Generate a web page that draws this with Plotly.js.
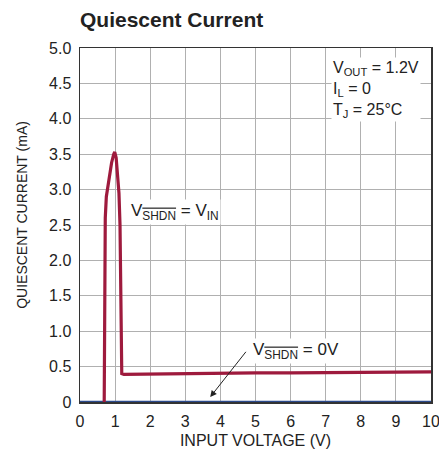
<!DOCTYPE html>
<html><head><meta charset="utf-8">
<script src="https://cdn.plot.ly/plotly-3.0.1.min.js"></script>
<style>html,body{margin:0;padding:0;background:#fff}</style>
</head><body><div id="chart" style="width:439px;height:455px"></div>
<script>
// Data
const activeV = [0.69, 0.70, 0.72, 0.75, 0.78, 0.84, 0.90, 0.96, 0.99, 1.03, 1.07, 1.11, 1.14, 1.17, 1.19, 1.25, 2, 3, 4, 5, 6, 7, 8, 9, 10];
const activeI = [0, 1.6, 2.6, 2.9, 3.0, 3.2, 3.38, 3.5, 3.53, 3.45, 3.25, 2.95, 2.5, 1.3, 0.40, 0.39, 0.395, 0.40, 0.405, 0.41, 0.41, 0.415, 0.42, 0.425, 0.425];
const shdnV = [0, 1, 2, 3, 4, 5, 6, 7, 8, 9, 10];
const shdnI = [0, 0, 0, 0, 0, 0, 0, 0, 0, 0, 0];
const xTicks = [0, 1, 2, 3, 4, 5, 6, 7, 8, 9, 10];
const yTicks = [0, 0.5, 1.0, 1.5, 2.0, 2.5, 3.0, 3.5, 4.0, 4.5, 5.0];
const yTickText = ['0', '0.5', '1.0', '1.5', '2.0', '2.5', '3.0', '3.5', '4.0', '4.5', '5.0'];

const F = '"Liberation Sans", Arial, sans-serif';
const OV = s => '<span style="text-decoration:overline">' + s + '</span>';

const traces = [
  {x: shdnV, y: shdnI, mode: 'lines', line: {color: '#2b4a8c', width: 2.5}, hoverinfo: 'none', cliponaxis: false},
  {x: activeV, y: activeI, mode: 'lines', line: {color: '#9e1a3d', width: 3.2}, hoverinfo: 'none'}
];

const layout = {
  width: 439, height: 455,
  margin: {l: 80, r: 8, t: 48, b: 53},
  paper_bgcolor: '#fff', plot_bgcolor: '#fff',
  showlegend: false,
  font: {family: F, color: '#222', size: 16},
  title: {text: '<b>Quiescent Current</b>', font: {family: F, size: 21, color: '#222'},
          x: 0, xanchor: 'left', xref: 'paper', y: 1 - 20/455, yanchor: 'middle'},
  xaxis: {range: [0, 10], tickvals: xTicks, ticktext: xTicks.map(String),
          showgrid: true, gridcolor: '#b0b0b0', gridwidth: 1,
          showline: true, linecolor: '#333', linewidth: 1.5, mirror: true,
          zeroline: false, ticks: '', tickfont: {size: 16}, ticklabelstandoff: 4,
          ticklabeloverflow: 'allow',
          title: {text: 'INPUT VOLTAGE (V)', font: {size: 16}, standoff: 6}},
  yaxis: {range: [0, 5], tickvals: yTicks, ticktext: yTickText,
          showgrid: true, gridcolor: '#b0b0b0', gridwidth: 1,
          showline: true, linecolor: '#333', linewidth: 1.5, mirror: true,
          zeroline: false, ticks: '', tickfont: {size: 16}, ticklabelstandoff: 4,
          ticklabeloverflow: 'allow'},
  annotations: [
    {x: (22 - 80) / 350, y: (402 - 215) / 354, xref: 'paper', yref: 'paper', xanchor: 'center', yanchor: 'middle',
     showarrow: false, textangle: -90,
     text: 'QUIESCENT CURRENT (mA)', font: {size: 14}},
    {x: 7.14, y: 4.87, xref: 'x', yref: 'y', xanchor: 'left', yanchor: 'top', align: 'left', showarrow: false,
     text: 'V<sub>OUT</sub> = 1.2V<br>I<sub>L</sub> = 0<br>T<sub>J</sub> = 25°C', font: {size: 16}, bgcolor: '#fff'},
    {x: 1.40, y: 2.68, xref: 'x', yref: 'y', xanchor: 'left', yanchor: 'middle', showarrow: false,
     text: 'V<sub>' + OV('SHDN') + '</sub> = V<sub>IN</sub>', font: {size: 17}, bgcolor: '#fff'},
    {x: 4.86, y: 0.72, xref: 'x', yref: 'y', xanchor: 'left', yanchor: 'middle', showarrow: false,
     text: 'V<sub>' + OV('SHDN') + '</sub> = 0V', font: {size: 17}, bgcolor: '#fff'},
    {x: 3.71, y: 0.07, xref: 'x', yref: 'y', ax: 4.76, ay: 0.73, axref: 'x', ayref: 'y',
     text: '', showarrow: true, arrowhead: 2, arrowsize: 1.3, arrowwidth: 1, arrowcolor: '#222'}
  ]
};

Plotly.newPlot('chart', traces, layout, {displayModeBar: false, staticPlot: true});
</script></body></html>
